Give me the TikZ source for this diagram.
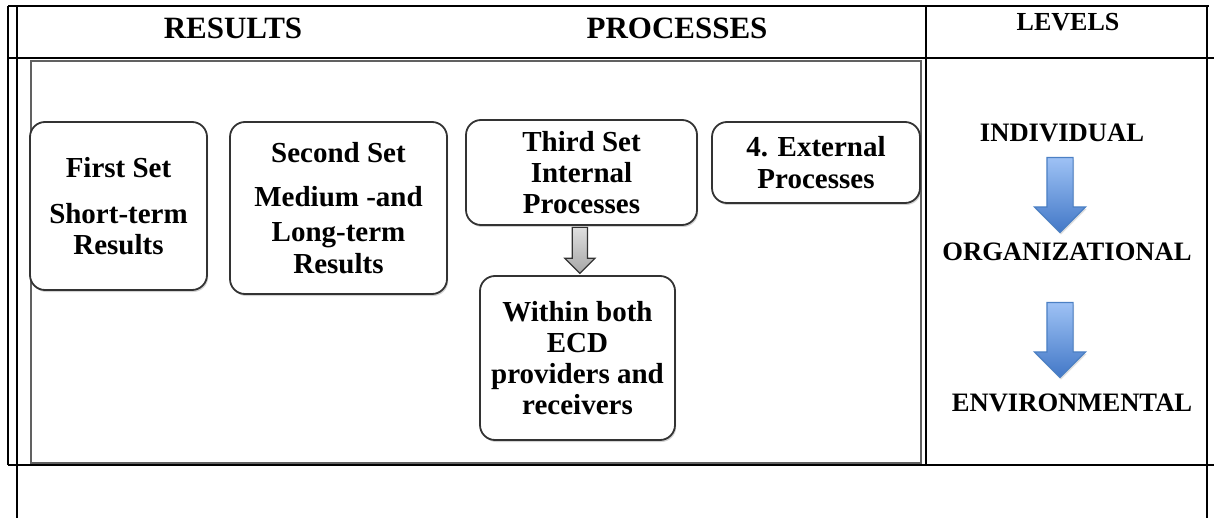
\documentclass[tikz,border=0pt]{standalone}
\usepackage{fontspec}
\setmainfont{Liberation Serif}
\definecolor{line_c}{rgb}{0.2,0.2,0.2}
\definecolor{frame_c}{rgb}{0.38,0.38,0.38}
\definecolor{blue_top}{rgb}{0.62,0.76,0.96}
\definecolor{blue_bot}{rgb}{0.26,0.47,0.78}
\definecolor{blue_line}{rgb}{0.30,0.50,0.77}
\usetikzlibrary{arrows.meta,
                calc,
                positioning,
                shapes,
                shapes.arrows,
                shadows}

\begin{document}
\begin{tikzpicture}[
			x=0.5pt, y=-0.5pt,
			rule/.style = {line width=1pt, black},
			head/.style = {font=\bfseries\fontsize{15.5}{16}\selectfont},
			lvl/.style = {font=\bfseries\fontsize{13.3}{14}\selectfont},
			setbox/.style = {draw=line_c, line width=0.9pt, rounded corners=7.5pt,
				fill=white, align=center, inner sep=0pt,
				font=\bfseries\fontsize{14.5}{15.6}\selectfont,
				drop shadow={shadow xshift=0.6pt, shadow yshift=-1pt, opacity=0.35}},
			bluearrow/.style = {single arrow, shape border rotate=270, draw=blue_line,
				line width=0.6pt, top color=blue_top, bottom color=blue_bot,
				inner sep=6.25pt, single arrow head extend=6.25pt, minimum height=37.5pt,
				drop shadow={shadow xshift=0.5pt, shadow yshift=-1pt, opacity=0.25}},
			grayarrow/.style = {single arrow, shape border rotate=270, draw=line_c,
				line width=0.6pt, top color=gray!25, bottom color=gray!70,
				inner sep=3.5pt, single arrow head extend=3.75pt, minimum height=23pt},
			]
			\useasboundingbox (0,0) rectangle (1214,518);
			% table rules
			\draw[rule] (8,6) -- (1209,6);
			\draw[rule] (8,58) -- (1214,58);
			\draw[rule] (8,465) -- (1214,465);
			\draw[rule] (8,6) -- (8,465);
			\draw[rule] (17,6) -- (17,518);
			\draw[rule] (926,6) -- (926,465);
			\draw[rule] (1207,6) -- (1207,518);
			% header
			\node[head] (res) at (233,28) {RESULTS};
			\node[head] (proc) at (677,28) {PROCESSES};
			\node[lvl, font=\bfseries\fontsize{13}{14}\selectfont] (lev) at (1068,22) {LEVELS};
			% inner frame
			\draw[frame_c, line width=1.3pt] (31,61) rectangle (921,463);
			% sets
			\node[setbox, minimum width=88.5pt, minimum height=84pt] (first) at (118.5,206)
				{First Set\\[7.5pt] Short-term\\ Results};
			\node[setbox, minimum width=108.5pt, minimum height=86pt] (second) at (338.5,208)
				{Second Set\\[6.5pt] Medium -and\\[2pt] Long-term\\ Results};
			\node[setbox, minimum width=115.5pt, minimum height=52.5pt] (third) at (581.5,172.5)
				{Third Set\\ Internal\\ Processes};
			\node[setbox, minimum width=104pt, minimum height=40.5pt] (ext) at (816,162.5)
				{4. External\\ Processes};
			\node[setbox, minimum width=97.5pt, minimum height=82pt] (within) at (577.5,358)
				{Within both\\ ECD\\ providers and\\ receivers};
			\node[grayarrow] (link) at ($(third.south)!0.42!(within.north)$) {};
			% levels
			\node[lvl] (ind) at (1062,133) {INDIVIDUAL};
			\node[lvl] (org) at (1067,252) {ORGANIZATIONAL};
			\node[lvl] (env) at (1072,403) {ENVIRONMENTAL};
			\node[bluearrow] (down1) at (1060,188.5) {};
			\node[bluearrow] (down2) at (1060,333.5) {};
		\end{tikzpicture}
\end{document}
